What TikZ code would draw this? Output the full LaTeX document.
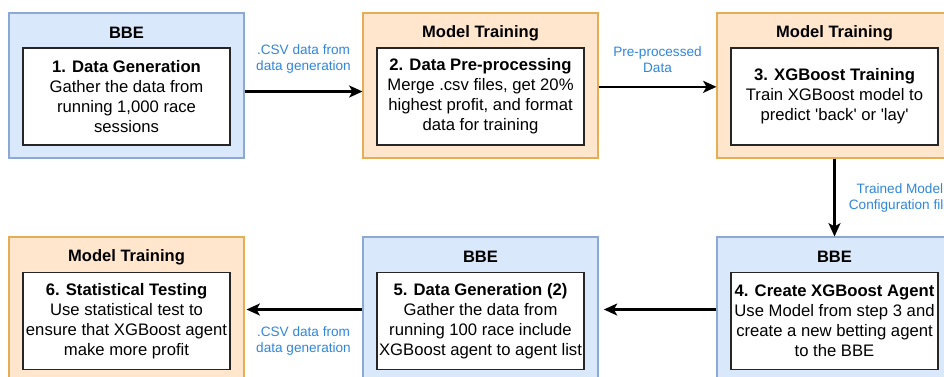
\documentclass[tikz,border=0pt]{standalone}
\usepackage{fontspec}
\setmainfont{Liberation Sans}
\usepackage{tikz}
\usetikzlibrary{arrows.meta}
\definecolor{bbeFill}{HTML}{DAE8FC}
\definecolor{bbeLine}{HTML}{8CA9D6}
\definecolor{mtFill}{HTML}{FFE6CC}
\definecolor{mtLine}{HTML}{E3AE55}
\definecolor{lblBlue}{HTML}{2F86DA}

\begin{document}
\begin{tikzpicture}[x=0.75pt, y=-0.75pt,
	every node/.style={inner sep=0pt, font=\fontsize{12.5}{15}\selectfont},
	bbe/.style={draw=bbeLine, fill=bbeFill, line width=0.8pt, minimum width=176.25pt, minimum height=108.75pt},
	mt/.style={draw=mtLine, fill=mtFill, line width=0.8pt, minimum width=176.25pt, minimum height=108.75pt},
	stepbox/.style={draw=black!85, fill=white, line width=0.9pt, minimum width=155.25pt, minimum height=72.75pt, align=center},
	title/.style={font=\fontsize{12.4}{14}\selectfont\bfseries},
	lbl/.style={text=lblBlue, align=center, font=\fontsize{10.2}{12}\selectfont},
	flow/.style={line width=1.6pt, -{Stealth[length=10pt, width=9pt, inset=2.5pt]}}]
	\useasboundingbox (0,0) rectangle (944,376);
	\clip (0,0) rectangle (944,376);
	% top row
	\node[bbe] (bbeA) at (126.5,85.5) {};
	\node[title] (tA) at (126.5,33) {BBE};
	\node[stepbox] (sA) at (126.5,96.5) {\textbf{1. Data Generation}\\Gather the data from\\running 1,000 race\\sessions};
	\node[mt] (mtA) at (480.5,85.5) {};
	\node[title] (tB) at (480.5,33) {Model Training};
	\node[stepbox] (sB) at (480.5,96.5) {\textbf{2. Data Pre-processing}\\Merge .csv files, get 20\%\\highest profit, and format\\data for training};
	\node[mt] (mtB) at (834.5,85.5) {};
	\node[title] (tC) at (834.5,33) {Model Training};
	\node[stepbox] (sC) at (834.5,96.5) {\textbf{3. XGBoost Training}\\Train XGBoost model to\\predict \textquotesingle back\textquotesingle\ or \textquotesingle lay\textquotesingle};
	% bottom row
	\node[bbe] (bbeB) at (834.5,309.5) {};
	\node[title] (tD) at (834.5,257) {BBE};
	\node[stepbox] (sD) at (834.5,321) {\textbf{4. Create XGBoost Agent}\\Use Model from step 3 and\\create a new betting agent\\to the BBE};
	\node[bbe] (bbeC) at (480.5,309.5) {};
	\node[title] (tE) at (480.5,257) {BBE};
	\node[stepbox] (sE) at (480.5,321) {\textbf{5. Data Generation (2)}\\Gather the data from\\running 100 race include\\XGBoost agent to agent list};
	\node[mt] (mtC) at (126.5,309.5) {};
	\node[title] (tF) at (126.5,257) {Model Training};
	\node[stepbox] (sF) at (126.5,321) {\textbf{6. Statistical Testing}\\Use statistical test to\\ensure that XGBoost agent\\make more profit};
	% connectors
	\draw[flow] ([yshift=-4.5pt]bbeA.east) -- ([yshift=-4.5pt]mtA.west) node[lbl, midway, above=13pt] (lA) {.CSV data from\\data generation};
	\draw[flow] ([yshift=-1pt]mtA.east) -- ([yshift=-1pt]mtB.west) node[lbl, midway, above=10pt] (lB) {Pre-processed\\Data};
	\draw[flow] (mtB.south) -- (bbeB.north) node[lbl, midway, right=10pt] (lC) {Trained Model\\Configuration file};
	\draw[flow, shorten >=4pt] (bbeB.west) -- (bbeC.east);
	\draw[flow, shorten >=1.5pt] (bbeC.west) -- (mtC.east) node[lbl, midway, below=12pt] (lD) {.CSV data from\\data generation};
\end{tikzpicture}
\end{document}
